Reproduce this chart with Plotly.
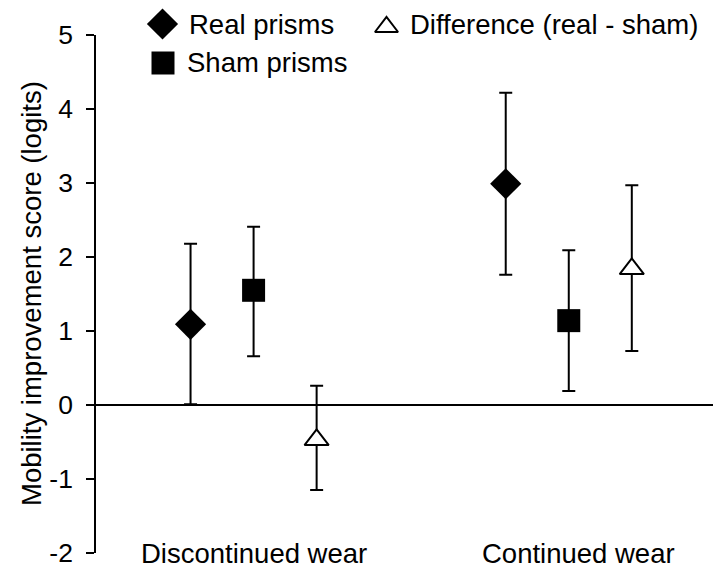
import plotly.graph_objects as go

# ---------------- data ----------------
groups = ["Discontinued wear", "Continued wear"]
group_pos = [1.0, 2.0]
label_pos = [1.0, 2.03]

series_names = ["Real prisms", "Sham prisms", "Difference (real - sham)"]
series_offsets = [-0.2, 0.0, 0.2]

real_vals = [1.09, 2.99]
real_hi = [2.18, 4.22]
real_lo = [0.01, 1.76]

sham_vals = [1.55, 1.14]
sham_hi = [2.41, 2.09]
sham_lo = [0.66, 0.19]

diff_vals = [-0.47, 1.84]
diff_hi = [0.26, 2.97]
diff_lo = [-1.15, 0.73]

y_ticks = [-2, -1, 0, 1, 2, 3, 4, 5]
y_title = "Mobility improvement score (logits)"

# ---------------- styling ----------------
FONT = "Arial, 'Liberation Sans', sans-serif"
FS = 27.5
TFS = 26.5
OFF = 8                      # page body margin of the browser
W, H = 721 - OFF, 575 - OFF  # figure size so it fits the window
# target plot-area box in screen pixels
PX_L, PX_R, PX_T, PX_B = 96, 721, 35, 553


def sx(px):  # screen pixel -> figure pixel (x)
    return px - OFF


def sy(py):  # screen pixel -> figure pixel (y)
    return py - OFF


x_dom = [sx(PX_L) / W, min(1.0, sx(PX_R) / W)]
y_dom = [(H - sy(PX_B)) / H, (H - sy(PX_T)) / H]

series = [
    (series_names[0], real_vals, real_hi, real_lo,
     dict(symbol="diamond", size=24, color="black", line=dict(width=0))),
    (series_names[1], sham_vals, sham_hi, sham_lo,
     dict(symbol="square", size=23, color="black", line=dict(width=0))),
    (series_names[2], diff_vals, diff_hi, diff_lo,
     dict(symbol="triangle-up", size=21, color="white", line=dict(width=2, color="black"))),
]

fig = go.Figure()
for (name, vals, hi, lo, marker), off in zip(series, series_offsets):
    xs = [g + off for g in group_pos]
    fig.add_trace(go.Scatter(
        x=xs, y=vals, mode="markers", name=name, showlegend=False,
        marker=marker, cliponaxis=False,
        error_y=dict(type="data", symmetric=False,
                     array=[h - v for h, v in zip(hi, vals)],
                     arrayminus=[v - l for v, l in zip(vals, lo)],
                     color="black", thickness=2, width=6.5),
    ))

# ---------------- manual legend (full-figure overlay axes, pixel units) ----------------
legend_items = [
    (series_names[0], 162.5, 24, series[0][4], 187, 24),
    (series_names[1], 163, 63, series[1][4], 185, 62.5),
    (series_names[2], 386.5, 27, dict(symbol="triangle-up", size=20, color="white",
                                      line=dict(width=2, color="black")), 408, 24),
]
for name, mx, my, mk, tx, ty in legend_items:
    fig.add_trace(go.Scatter(x=[sx(mx)], y=[sy(my)], mode="markers", marker=mk,
                             xaxis="x2", yaxis="y2", showlegend=False,
                             cliponaxis=False, hoverinfo="skip"))
    fig.add_annotation(x=sx(tx), y=sy(ty), xref="x2", yref="y2", text=name,
                       showarrow=False, xanchor="left", yanchor="middle",
                       font=dict(family=FONT, size=FS, color="black"))

# category labels
for g, lx in zip(groups, label_pos):
    fig.add_annotation(x=lx, y=-2, xref="x", yref="y", text=g, showarrow=False,
                       xanchor="center", yanchor="middle",
                       font=dict(family=FONT, size=FS, color="black"))

# y-axis title
fig.add_annotation(x=sx(31), y=sy((PX_T + PX_B) / 2), xref="x2", yref="y2",
                   text=y_title, textangle=-90, showarrow=False,
                   xanchor="center", yanchor="middle",
                   font=dict(family=FONT, size=FS, color="black"))

fig.update_layout(
    width=W, height=H,
    margin=dict(l=0, r=0, t=0, b=0, autoexpand=False),
    paper_bgcolor="white", plot_bgcolor="rgba(0,0,0,0)",
    font=dict(family=FONT, size=FS, color="black"),
    showlegend=False,
    xaxis=dict(domain=x_dom, range=[0.5, 2.483], visible=False,
               showgrid=False, zeroline=False, anchor="y"),
    yaxis=dict(domain=y_dom, range=[-2, 5], tickmode="array", tickvals=y_ticks,
               ticktext=[str(t) for t in y_ticks], anchor="x",
               ticks="outside", ticklen=8, tickwidth=1.5, tickcolor="black",
               ticklabelstandoff=8,
               showline=True, linewidth=1.5, linecolor="black",
               showgrid=False, zeroline=True, zerolinecolor="black", zerolinewidth=2,
               tickfont=dict(family=FONT, size=TFS, color="black")),
    xaxis2=dict(domain=[0, 1], range=[0, W], visible=False, fixedrange=True, anchor="y2"),
    yaxis2=dict(domain=[0, 1], range=[H, 0], visible=False, fixedrange=True, anchor="x2"),
)

fig.write_html("out.html")
